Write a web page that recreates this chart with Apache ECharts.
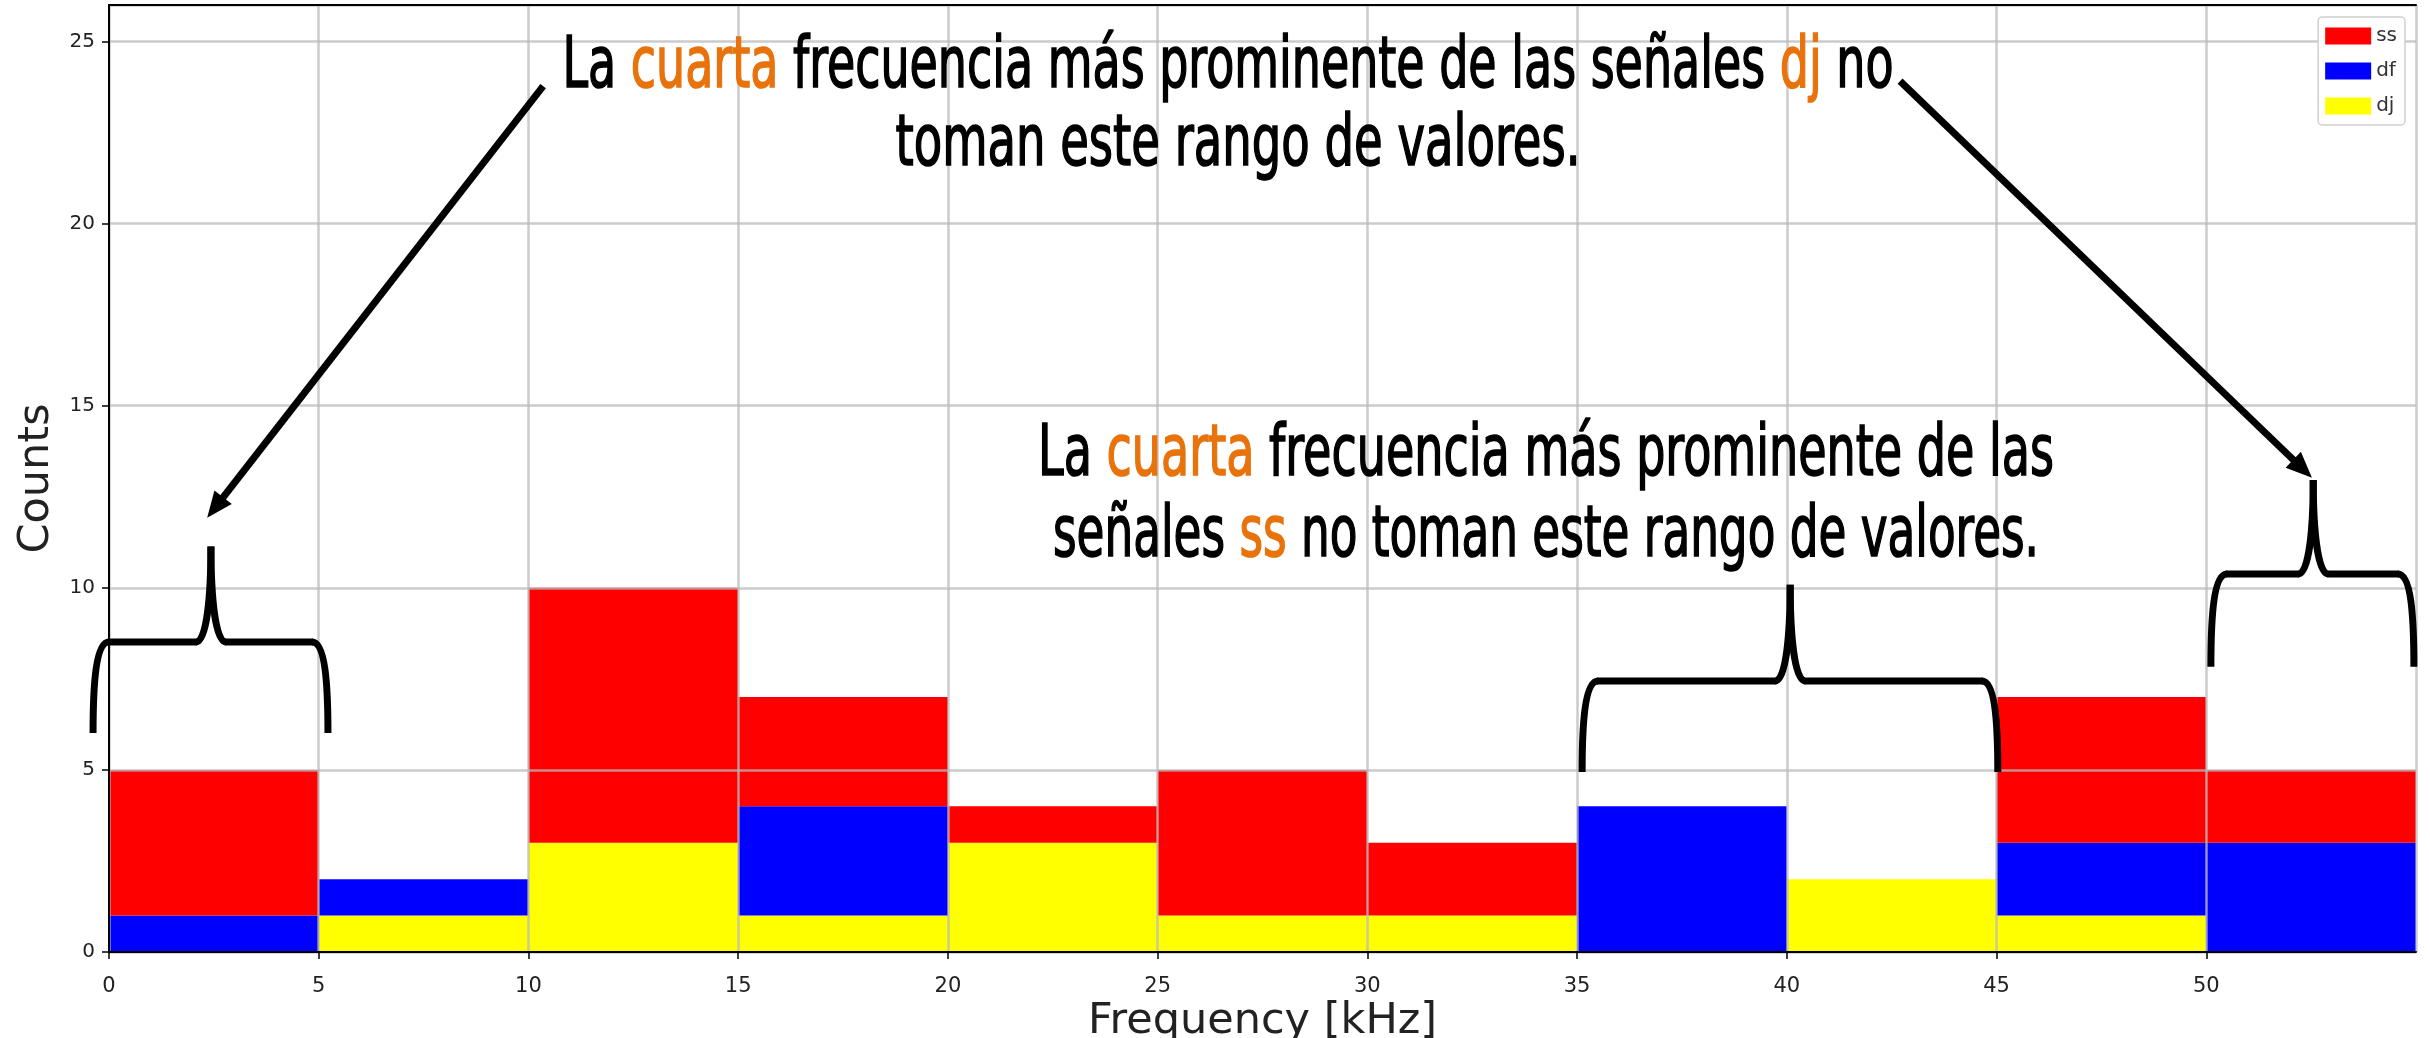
<!DOCTYPE html>
<html>
<head>
<meta charset="utf-8">
<script src="https://cdn.jsdelivr.net/npm/echarts@6/dist/echarts.min.js"></script>
<style>
  html, body { margin: 0; padding: 0; background: #fff; }
  #hist { width: 2430px; height: 1038px; }
</style>
</head>
<body>
<div id="hist"></div>
<script>
  // bins of 5 kHz, counts per class (stacked: dj bottom, df middle, ss top)
  const bins = ['0-5', '5-10', '10-15', '15-20', '20-25', '25-30', '30-35', '35-40', '40-45', '45-50', '50-55'];
  const ssCounts = [4, 0, 7, 3, 1, 4, 2, 0, 0, 4, 2];
  const dfCounts = [1, 1, 0, 3, 0, 0, 0, 4, 0, 2, 3];
  const djCounts = [0, 1, 3, 1, 3, 1, 1, 0, 2, 1, 0];

  // annotation geometry in data units (x in kHz, y in counts)
  const braces = [
    {x0: -0.38, x1: 5.22, xm: 2.43, yb: 6.01, yh: 8.51, yt: 11.13},
    {x0: 35.12, x1: 45.03, xm: 40.08, yb: 4.94, yh: 7.44, yt: 10.08},
    {x0: 50.11, x1: 54.95, xm: 52.55, yb: 7.83, yh: 10.38, yt: 12.96}
  ];
  const arrows = [
    {from: [10.35, 23.77], to: [2.34, 11.92]},
    {from: [42.70, 23.91], to: [52.52, 13.02]}
  ];
  // annotation text lines: [text, orange?] pieces, centre x, baseline y, target width (px)
  const notes = [
    {parts: [['La ', 0], ['cuarta', 1], [' frecuencia más prominente de las señales ', 0], ['dj', 1], [' no', 0]], cx: 1228, base: 93, w: 1331},
    {parts: [['toman este rango de valores.', 0]], cx: 1238, base: 171, w: 685},
    {parts: [['La ', 0], ['cuarta', 1], [' frecuencia más prominente de las', 0]], cx: 1546, base: 481, w: 1016},
    {parts: [['señales ', 0], ['ss', 1], [' no toman este rango de valores.', 0]], cx: 1546, base: 562, w: 986}
  ];

  const noteFont = '"Liberation Sans Narrow", "DejaVu Sans Condensed", sans-serif';
  const noteSize = 72;
  const orange = '#e8730c';

  let myChart = echarts.init(document.getElementById('hist'));

  const axisFont = 'DejaVu Sans';
  const gridLine = {show: true, lineStyle: {color: 'rgba(185,185,185,0.75)', width: 2.5}};

  myChart.setOption({
    animation: false,
    backgroundColor: '#fff',
    grid: {left: 109, right: 14, top: 5, bottom: 86, containLabel: false, outerBoundsMode: 'none'},
    legend: {
      data: ['ss', 'df', 'dj'],
      orient: 'vertical',
      right: 25,
      top: 17,
      icon: 'rect',
      itemWidth: 46,
      itemHeight: 17,
      itemGap: 15,
      padding: [9, 8, 9, 7],
      backgroundColor: '#fff',
      borderColor: '#d0d0d0',
      borderWidth: 1.5,
      borderRadius: 4,
      z: 20,
      textStyle: {fontSize: 20, color: '#333', fontFamily: axisFont}
    },
    xAxis: [{
      type: 'value',
      position: 'bottom',
      min: 0,
      max: 55,
      interval: 5,
      z: 5,
      name: 'Frequency [kHz]',
      nameLocation: 'middle',
      nameGap: 48,
      nameMoveOverlap: false,
      nameTextStyle: {fontSize: 43, color: '#222', fontFamily: axisFont},
      axisLine: {lineStyle: {color: '#000', width: 2}},
      axisTick: {show: true, length: 7, lineStyle: {color: '#000', width: 1.5}},
      axisLabel: {fontSize: 21, color: '#222', margin: 24, fontFamily: axisFont, showMaxLabel: false},
      splitLine: gridLine
    }, {
      type: 'category',
      position: 'bottom',
      data: bins,
      show: false,
      boundaryGap: true
    }, {
      type: 'value',
      position: 'top',
      min: 0,
      max: 55,
      z: 6,
      axisLine: {lineStyle: {color: '#000', width: 2}},
      axisTick: {show: false},
      axisLabel: {show: false},
      splitLine: {show: false}
    }],
    yAxis: [{
      type: 'value',
      position: 'left',
      min: 0,
      max: 26,
      interval: 5,
      z: 5,
      name: 'Counts',
      nameLocation: 'middle',
      nameGap: 38,
      nameTextStyle: {fontSize: 43, color: '#222', fontFamily: axisFont},
      axisLine: {show: true, lineStyle: {color: '#000', width: 2}},
      axisTick: {show: true, length: 7, lineStyle: {color: '#000', width: 1.5}},
      axisLabel: {fontSize: 20, color: '#222', margin: 14, fontFamily: axisFont, showMaxLabel: false},
      splitLine: gridLine
    }, {
      type: 'value',
      position: 'right',
      min: 0,
      max: 26,
      z: 6,
      axisLine: {show: true, lineStyle: {color: '#000', width: 2}},
      axisTick: {show: false},
      axisLabel: {show: false},
      splitLine: {show: false}
    }],
    series: [{
      name: 'dj',
      type: 'bar',
      stack: 'hist',
      xAxisIndex: 1,
      barCategoryGap: '0%',
      data: djCounts,
      itemStyle: {color: '#ffff00'}
    }, {
      name: 'df',
      type: 'bar',
      stack: 'hist',
      xAxisIndex: 1,
      barCategoryGap: '0%',
      data: dfCounts,
      itemStyle: {color: '#0000ff'}
    }, {
      name: 'ss',
      type: 'bar',
      stack: 'hist',
      xAxisIndex: 1,
      barCategoryGap: '0%',
      data: ssCounts,
      itemStyle: {color: '#ff0000'}
    }]
  });

  // annotations: braces, arrows and text, placed through the axes
  const px = (x, y) => myChart.convertToPixel({xAxisIndex: 0, yAxisIndex: 0}, [x, y]);
  const ink = {stroke: '#000', lineWidth: 7, fill: 'none', lineCap: 'butt'};

  function curve(p1, c1, c2, p2) {
    return {
      type: 'bezierCurve', z: 100,
      shape: {x1: p1[0], y1: p1[1], cpx1: c1[0], cpy1: c1[1], cpx2: c2[0], cpy2: c2[1], x2: p2[0], y2: p2[1]},
      style: ink
    };
  }
  function seg(p1, p2) {
    return {type: 'line', z: 100, shape: {x1: p1[0], y1: p1[1], x2: p2[0], y2: p2[1]}, style: ink};
  }

  let graphics = [];
  braces.forEach(b => {
    const [x0, yb] = px(b.x0, b.yb);
    const [x1] = px(b.x1, b.yb);
    const [xm, yt] = px(b.xm, b.yt);
    const yh = px(b.xm, b.yh)[1];
    const r = 16, s = 15;
    const up = (yb - yh) * 0.55, tip = (yh - yt) * 0.5;
    graphics.push(curve([x0, yb], [x0, yb - up], [x0 + 3, yh], [x0 + r, yh]));
    graphics.push(seg([x0 + r - 1, yh], [xm - s + 1, yh]));
    graphics.push(curve([xm - s, yh], [xm - 4, yh], [xm, yh - tip], [xm, yt]));
    graphics.push(curve([xm + s, yh], [xm + 4, yh], [xm, yh - tip], [xm, yt]));
    graphics.push(seg([xm + s - 1, yh], [x1 - r + 1, yh]));
    graphics.push(curve([x1, yb], [x1, yb - up], [x1 - 3, yh], [x1 - r, yh]));
  });

  arrows.forEach(a => {
    const p0 = px(a.from[0], a.from[1]);
    const p1 = px(a.to[0], a.to[1]);
    const dx = p1[0] - p0[0], dy = p1[1] - p0[1];
    const len = Math.sqrt(dx * dx + dy * dy);
    const ux = dx / len, uy = dy / len;
    const headLen = 26, headHalf = 11;
    const bx = p1[0] - ux * headLen, by = p1[1] - uy * headLen;
    graphics.push(seg(p0, [bx + ux * 4, by + uy * 4]));
    graphics.push({
      type: 'polygon', z: 100,
      shape: {points: [p1, [bx - uy * headHalf, by + ux * headHalf], [bx + uy * headHalf, by - ux * headHalf]]},
      style: {fill: '#000'}
    });
  });

  const ctx = document.createElement('canvas').getContext('2d');
  ctx.font = noteSize + 'px ' + noteFont;
  notes.forEach(n => {
    const plain = n.parts.map(p => p[0]).join('');
    const sx = n.w / ctx.measureText(plain).width;
    const text = n.parts.map(p => '{' + (p[1] ? 'o' : 'k') + '|' + p[0] + '}').join('');
    const tok = c => ({fill: c, stroke: c, lineWidth: 1.6, fontSize: noteSize, fontFamily: noteFont});
    graphics.push({
      type: 'text', z: 100,
      x: n.cx,
      y: n.base - noteSize * 0.34,
      scaleX: sx,
      style: {
        text: text,
        x: 0, y: 0,
        align: 'center',
        verticalAlign: 'middle',
        fontSize: noteSize,
        fontFamily: noteFont,
        fill: '#000',
        rich: {k: tok('#000'), o: tok(orange)}
      }
    });
  });

  myChart.setOption({graphic: graphics});
</script>
</body>
</html>
